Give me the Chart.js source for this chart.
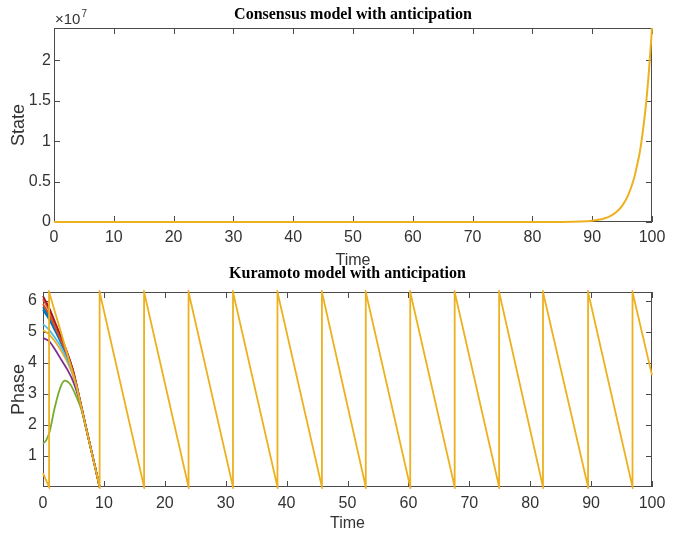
<!DOCTYPE html>
<html>
<head>
<meta charset="utf-8">
<script src="https://cdn.jsdelivr.net/npm/chart.js@4.4.1/dist/chart.umd.min.js"></script>
<style>
  html, body { margin: 0; padding: 0; background: #ffffff; }
  #wrap { position: relative; width: 678px; height: 533px; overflow: hidden; background: #ffffff; }
  .pane { position: absolute; left: 0; width: 678px; }
  canvas { display: block; }
</style>
</head>
<body>
<div id="wrap">
  <div class="pane" style="top:0;height:271px"><canvas id="c1" width="678" height="271"></canvas></div>
  <div class="pane" style="top:253px;height:280px"><canvas id="c2" width="678" height="280"></canvas></div>
</div>
<script>
// ================= DATA =================
const consensusTitle = 'Consensus model with anticipation';
const kuramotoTitle  = 'Kuramoto model with anticipation';
const xLabel = 'Time';
const consYLabel = 'State';
const phaseYLabel = 'Phase';

const timeTicks = [0, 10, 20, 30, 40, 50, 60, 70, 80, 90, 100];

// Top panel: consensus state (raw values)
const consTime  = [0, 10, 20, 30, 40, 50, 60, 70, 80, 85, 88, 90, 91, 92, 93, 94, 95, 96, 97, 97.5, 98, 98.5, 99, 99.5, 100];
const consState = [0, 0, 0, 0, 0, 0, 0, 0, 1e3, 1.3e4, 6e4, 1.6e5, 2.7e5, 4.4e5, 7.3e5, 1.2e6, 2.0e6, 3.3e6, 5.4e6, 7.0e6, 8.8e6, 1.14e7, 1.46e7, 1.88e7, 2.4e7];
const consYMax = 2.4e7;
const consYTicks = [0, 5e6, 1e7, 1.5e7, 2e7];
const consYTickLabels = ['0', '0.5', '1', '1.5', '2'];
const consExponent = '7';

// Bottom panel: Kuramoto phases
const phaseMax = 6.2832;
const phaseYTicks = [1, 2, 3, 4, 5, 6];

const agentTime = [0, 1, 2, 3, 4, 5, 6, 7, 8, 9.3];
const agent1Phase = [5.70, 5.40, 5.02, 4.62, 4.18, 3.62, 2.84, 1.97, 1.12, 0];
const agent2Phase = [6.05, 5.70, 5.24, 4.78, 4.30, 3.70, 2.86, 1.98, 1.12, 0];
const agent3Phase = [5.05, 4.92, 4.68, 4.38, 4.02, 3.55, 2.82, 1.97, 1.12, 0];
const agent4Phase = [4.80, 4.70, 4.42, 4.10, 3.78, 3.38, 2.78, 1.96, 1.12, 0];
const agent6Phase = [5.25, 5.06, 4.80, 4.50, 4.10, 3.58, 2.83, 1.97, 1.12, 0];
const agent7Phase = [6.15, 5.78, 5.30, 4.82, 4.32, 3.72, 2.86, 1.98, 1.12, 0];
const agent8Phase = [5.80, 5.48, 5.08, 4.66, 4.22, 3.65, 2.85, 1.97, 1.12, 0];
const agent9Phase = [5.90, 5.56, 5.14, 4.70, 4.24, 3.66, 2.85, 1.97, 1.12, 0];

const agent5Time  = [0, 0.5, 1, 2, 3, 3.6, 4.5, 5.5, 6.3, 7, 8, 9.3];
const agent5Phase = [1.40, 1.50, 1.72, 2.62, 3.28, 3.43, 3.30, 2.90, 2.50, 1.94, 1.12, 0];

// Agent 10 (drawn last): start segment then sawtooth wraps
const agent10HeadTime  = [0, 1.0, 1.0, 3.0, 5.5, 7.4, 9.3];
const agent10HeadPhase = [0.45, 0, 6.2832, 4.95, 3.25, 1.62, 0];
const wrapTimes = [9.3, 16.6, 23.9, 31.2, 38.5, 45.8, 53.0, 60.3, 67.6, 74.9, 82.1, 89.5, 96.8];
const endTime = 100;
const endPhase = 3.6;

const agentColors = ['#0072BD', '#D95319', '#EDB120', '#7E2F8E', '#77AC30', '#4DBEEE', '#A2142F', '#0072BD', '#D95319', '#EDB120'];

// ================= BUILD =================
function pts(xs, ys) { return xs.map((x, i) => ({ x: x, y: ys[i] })); }

const agent10Points = pts(agent10HeadTime, agent10HeadPhase);
for (let i = 0; i < wrapTimes.length; i++) {
  agent10Points.push({ x: wrapTimes[i], y: phaseMax });
  if (i + 1 < wrapTimes.length) agent10Points.push({ x: wrapTimes[i + 1], y: 0 });
}
agent10Points.push({ x: endTime, y: endPhase });

const agentSeries = [
  pts(agentTime, agent1Phase),
  pts(agentTime, agent2Phase),
  pts(agentTime, agent3Phase),
  pts(agentTime, agent4Phase),
  pts(agent5Time, agent5Phase),
  pts(agentTime, agent6Phase),
  pts(agentTime, agent7Phase),
  pts(agentTime, agent8Phase),
  pts(agentTime, agent9Phase),
  agent10Points
];

const SANS = "'Liberation Sans', Arial, Helvetica, sans-serif";
const TICK_FONT = { family: SANS, size: 16 };
const XLABEL_FONT = { family: SANS, size: 16 };
const YLABEL_FONT = { family: SANS, size: 18 };
const TITLE_FONT = { family: "'Liberation Serif', 'Times New Roman', serif", size: 16, weight: 'bold' };
const AX_COLOR = '#4a4a4a';
const TXT_COLOR = '#333333';

const matlabAxes = {
  id: 'matlabAxes',
  beforeDatasetsDraw(chart) {
    const ctx = chart.ctx;
    const a = chart.chartArea;
    const xs = chart.scales.x, ys = chart.scales.y;
    const L = 6;
    ctx.save();
    ctx.strokeStyle = AX_COLOR;
    ctx.lineWidth = 1;
    ctx.beginPath();
    xs.ticks.forEach(t => {
      const p = Math.round(xs.getPixelForValue(t.value)) + 0.5;
      ctx.moveTo(p, a.bottom); ctx.lineTo(p, a.bottom - L);
      ctx.moveTo(p, a.top); ctx.lineTo(p, a.top + L);
    });
    ys.ticks.forEach(t => {
      const p = Math.round(ys.getPixelForValue(t.value)) + 0.5;
      ctx.moveTo(a.left, p); ctx.lineTo(a.left + L, p);
      ctx.moveTo(a.right, p); ctx.lineTo(a.right - L, p);
    });
    ctx.stroke();
    ctx.strokeRect(Math.round(a.left) + 0.5, Math.round(a.top) + 0.5, Math.round(a.right - a.left) - 1, Math.round(a.bottom - a.top) - 1);
    ctx.restore();
  }
};

const exponentPlugin = {
  id: 'exponentLabel',
  afterDraw(chart) {
    if (!chart.options.plugins.exponentLabel || !chart.options.plugins.exponentLabel.text) return;
    const ctx = chart.ctx;
    const a = chart.chartArea;
    ctx.save();
    ctx.fillStyle = TXT_COLOR;
    ctx.textBaseline = 'alphabetic';
    ctx.textAlign = 'left';
    ctx.font = "15px " + SANS;
    const base = '\u00d710';
    ctx.fillText(base, a.left + 1, a.top - 4);
    const w = ctx.measureText(base).width;
    ctx.font = "10px " + SANS;
    ctx.fillText(chart.options.plugins.exponentLabel.text, a.left + 1 + w + 1, a.top - 11);
    ctx.restore();
  }
};

function makeOptions(cfg) {
  return {
    responsive: false,
    animation: false,
    events: [],
    layout: { padding: { left: 0, right: 26, top: 0, bottom: 0 } },
    plugins: {
      legend: { display: false },
      tooltip: { enabled: false },
      title: {
        display: true, text: cfg.title, font: TITLE_FONT, color: '#000000',
        padding: { top: cfg.titlePadTop, bottom: cfg.titlePadBottom }, fullSize: false
      },
      exponentLabel: { text: cfg.exponent || '' }
    },
    scales: {
      x: {
        type: 'linear', min: 0, max: 100,
        afterBuildTicks: s => { s.ticks = timeTicks.map(v => ({ value: v })); },
        afterFit: s => { s.height = cfg.xHeight; },
        ticks: { font: TICK_FONT, color: TXT_COLOR, padding: cfg.xTickPad, maxRotation: 0, autoSkip: false,
                 callback: v => String(v) },
        grid: { display: false, drawTicks: false },
        border: { display: false },
        title: { display: true, text: xLabel, font: XLABEL_FONT, color: TXT_COLOR, padding: { top: 0, bottom: cfg.xTitlePad } }
      },
      y: {
        type: 'linear', min: 0, max: cfg.yMax,
        afterBuildTicks: s => { s.ticks = cfg.yTicks.map(v => ({ value: v })); },
        afterFit: s => { s.width = cfg.yWidth; },
        ticks: { font: TICK_FONT, color: TXT_COLOR, padding: cfg.yTickPad, autoSkip: false,
                 callback: cfg.yLabelFn },
        grid: { display: false, drawTicks: false },
        border: { display: false },
        title: { display: true, text: cfg.yTitle, font: YLABEL_FONT, color: TXT_COLOR, padding: { top: 8, bottom: 0 } }
      }
    }
  };
}

// Top chart
new Chart(document.getElementById('c1'), {
  type: 'line',
  data: {
    datasets: [{
      data: pts(consTime, consState),
      borderColor: agentColors[9],
      borderWidth: 2,
      pointRadius: 0,
      fill: false,
      clip: 3,
      cubicInterpolationMode: 'monotone'
    }]
  },
  options: makeOptions({
    title: consensusTitle, titlePadTop: 5.4, titlePadBottom: 3.4,
    xHeight: 49, xTickPad: 6.4, xTitlePad: 0.4, yWidth: 54, yTickPad: 3,
    yMax: consYMax, yTicks: consYTicks, yTitle: consYLabel,
    yLabelFn: v => { const i = consYTicks.indexOf(v); return i >= 0 ? consYTickLabels[i] : ''; },
    exponent: consExponent
  }),
  plugins: [matlabAxes, exponentPlugin]
});

// Bottom chart
new Chart(document.getElementById('c2'), {
  type: 'line',
  data: {
    datasets: agentSeries.map((d, i) => ({
      data: d,
      borderColor: agentColors[i],
      borderWidth: 1.8,
      pointRadius: 0,
      fill: false,
      tension: 0,
      clip: 2,
      cubicInterpolationMode: i === 9 ? 'default' : 'monotone',
      order: agentSeries.length - 1 - i
    }))
  },
  options: makeOptions({
    title: kuramotoTitle, titlePadTop: 11.4, titlePadBottom: 8.4,
    xHeight: 46, xTickPad: 7.4, xTitlePad: 0, yWidth: 43, yTickPad: 6,
    yMax: phaseMax, yTicks: phaseYTicks, yTitle: phaseYLabel,
    yLabelFn: v => String(v)
  }),
  plugins: [matlabAxes, exponentPlugin]
});
</script>
</body>
</html>
